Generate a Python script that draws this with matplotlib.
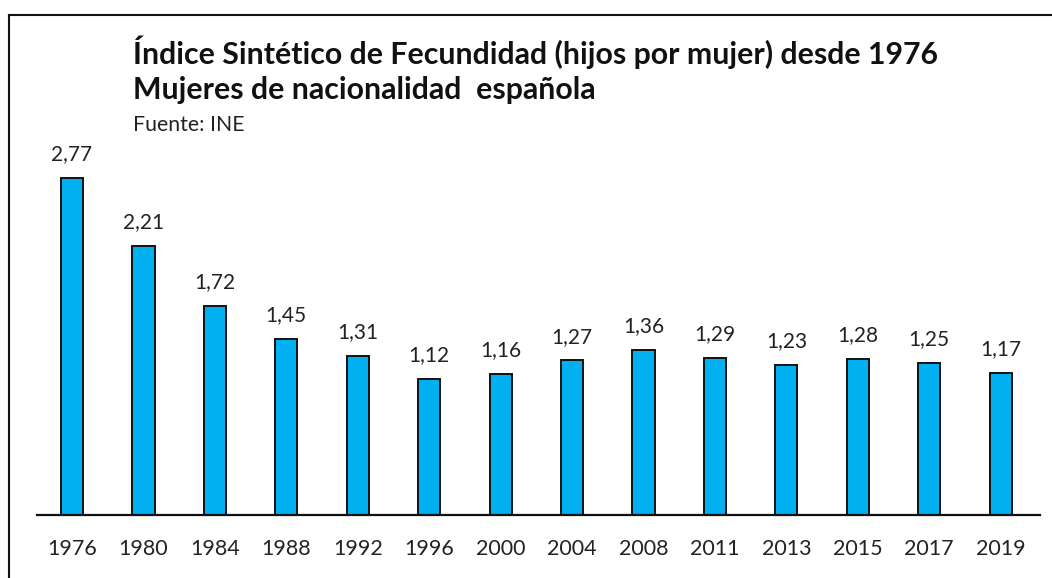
import matplotlib
matplotlib.use("Agg")
import matplotlib.pyplot as plt
from matplotlib.lines import Line2D

years = ["1976", "1980", "1984", "1988", "1992", "1996", "2000", "2004",
         "2008", "2011", "2013", "2015", "2017", "2019"]
values = [2.77, 2.21, 1.72, 1.45, 1.31, 1.12, 1.16, 1.27, 1.36, 1.29,
          1.23, 1.28, 1.25, 1.17]
value_labels = ["2,77", "2,21", "1,72", "1,45", "1,31", "1,12", "1,16", "1,27",
                "1,36", "1,29", "1,23", "1,28", "1,25", "1,17"]

title1 = "Índice Sintético de Fecundidad (hijos por mujer) desde 1976"
title2 = "Mujeres de nacionalidad  española"
source = "Fuente: INE"

plt.rcParams['font.family'] = ['Lato', 'DejaVu Sans']

W, H = 1052, 578
fig = plt.figure(figsize=(W / 100, H / 100), dpi=100)
fig.patch.set_facecolor("white")

# axes in pixel coordinates
ax_left, ax_right = 37, 1040
ax_bottom_px = 515
ax_top_px = 150
ax = fig.add_axes([ax_left / W, (H - ax_bottom_px) / H,
                   (ax_right - ax_left) / W, (ax_bottom_px - ax_top_px) / H])

x = list(range(len(years)))
ax.bar(x, values, width=0.31, color="#00B0F0", edgecolor="#111111", linewidth=1.4,
       zorder=2)
for xi, v, lab in zip(x, values, value_labels):
    ax.annotate(lab, (xi, v), xytext=(0, 10), textcoords="offset points",
                ha="center", va="bottom", fontsize=15, color="#222222")

ax.set_xlim(-0.49, 13.55)
ax.set_ylim(0, 3.0)
ax.set_xticks(x)
ax.set_xticklabels(years, fontsize=15.5, color="#222222")
ax.tick_params(axis="x", length=0, pad=17)
ax.set_yticks([])
for s in ["top", "right", "left"]:
    ax.spines[s].set_visible(False)
ax.spines["bottom"].set_linewidth(1.6)
ax.spines["bottom"].set_color("#111111")

# titles
fig.text(133 / W, 1 - 52 / H, title1, fontsize=21.8, fontweight="bold",
         ha="left", va="center", color="#111111")
fig.text(133 / W, 1 - 90 / H, title2, fontsize=21.8, fontweight="bold",
         ha="left", va="center", color="#111111")
fig.text(133 / W, 1 - 125 / H, source, fontsize=15.3, ha="left", va="center",
         color="#222222")

# frame lines (top and left)
fig.add_artist(Line2D([8.5 / W, 1.0], [1 - 14.5 / H, 1 - 14.5 / H],
                      transform=fig.transFigure, color="#111111", linewidth=1.5))
fig.add_artist(Line2D([8.5 / W, 8.5 / W], [0, 1 - 14.5 / H],
                      transform=fig.transFigure, color="#111111", linewidth=1.5))

fig.savefig("out.png", dpi=100, facecolor="white")
